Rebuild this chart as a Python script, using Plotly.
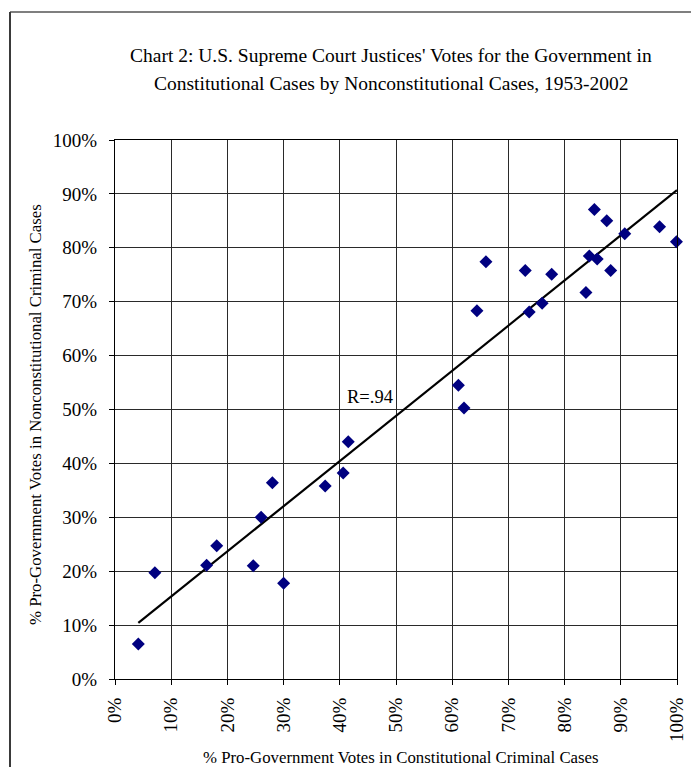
import plotly.graph_objects as go

# % pro-government votes in constitutional criminal cases (x) vs nonconstitutional criminal cases (y)
constitutional = [4.15, 7.1, 16.3, 18.1, 24.6, 26.0, 28.0, 30.0, 37.4, 40.6, 41.5,
                  61.1, 62.1, 64.4, 66.0, 73.0, 73.7, 76.0, 77.7, 83.8, 84.4,
                  85.3, 85.8, 87.5, 88.2, 90.7, 96.9, 99.9]
nonconstitutional = [6.5, 19.7, 21.1, 24.7, 21.0, 30.0, 36.4, 17.75, 35.8, 38.2, 44.0,
                     54.5, 50.3, 68.3, 77.4, 75.8, 68.1, 69.7, 75.1, 71.7, 78.5,
                     87.1, 77.9, 85.0, 75.8, 82.6, 83.9, 81.1]

# Trend line end points as drawn
trend_x = [4.15, 100.0]
trend_y = [10.4, 90.7]

title_lines = ["Chart 2: U.S. Supreme Court Justices' Votes for the Government in",
               "Constitutional Cases by Nonconstitutional Cases, 1953-2002"]
x_title = "% Pro-Government Votes in Constitutional Criminal Cases"
y_title = "% Pro-Government Votes in Nonconstitutional Criminal Cases"
r_label = "R=.94"

FONT = "Liberation Serif, Times New Roman, serif"
OFF = 8  # page offset of the figure inside the browser window
W, H = 699 - OFF, 767 - OFF
L, R, T, B = 115 - OFF, 677 - OFF, 140 - OFF, 679 - OFF
pw, ph = R - L, B - T


def px(x):
    return (x - OFF - L) / pw


def py(y):
    return (B - (y - OFF)) / ph


fig = go.Figure()
fig.add_trace(go.Scatter(x=trend_x, y=trend_y, mode="lines",
                         line=dict(color="black", width=2.2), hoverinfo="skip",
                         showlegend=False))
fig.add_trace(go.Scatter(x=constitutional, y=nonconstitutional, mode="markers",
                         marker=dict(symbol="diamond", size=10, color="#000080",
                                     line=dict(width=0)),
                         cliponaxis=False, showlegend=False))

axis_common = dict(range=[0, 100], dtick=10, ticksuffix="%", showgrid=True,
                   gridcolor="#2a2a2a", gridwidth=1, zeroline=False,
                   showline=True, linecolor="black", linewidth=1, mirror=True,
                   ticks="outside", ticklen=5, tickcolor="black",
                   tickfont=dict(family=FONT, size=19, color="black"))

fig.update_xaxes(**axis_common, tickangle=-90, ticklabelstandoff=5)
fig.update_yaxes(**axis_common, ticklabelstandoff=8)

annotations = [
    dict(text=title_lines[0], x=px(391), y=py(55), xref="paper", yref="paper",
         showarrow=False, xanchor="center", yanchor="middle",
         font=dict(family=FONT, size=19.5, color="black")),
    dict(text=title_lines[1], x=px(391), y=py(83), xref="paper", yref="paper",
         showarrow=False, xanchor="center", yanchor="middle",
         font=dict(family=FONT, size=19.5, color="black")),
    dict(text=x_title, x=px(401), y=py(757), xref="paper", yref="paper",
         showarrow=False, xanchor="center", yanchor="middle",
         font=dict(family=FONT, size=16.8, color="black")),
    dict(text=y_title, x=px(35), y=py(415), xref="paper", yref="paper",
         showarrow=False, xanchor="center", yanchor="middle", textangle=-90,
         font=dict(family=FONT, size=16.8, color="black")),
    dict(text=r_label, x=px(370), y=py(397), xref="paper", yref="paper",
         showarrow=False, xanchor="center", yanchor="middle",
         font=dict(family=FONT, size=18.5, color="black")),
]

shapes = [
    dict(type="line", xref="paper", yref="paper", x0=px(10), x1=px(720),
         y0=py(12), y1=py(12), line=dict(color="black", width=1.2)),
    dict(type="line", xref="paper", yref="paper", x0=px(10), x1=px(10),
         y0=py(12), y1=py(800), line=dict(color="#3a3a3a", width=2)),
]

fig.update_layout(width=W, height=H, autosize=False,
                  margin=dict(l=L, r=W - R, t=T, b=H - B),
                  paper_bgcolor="white", plot_bgcolor="white",
                  annotations=annotations, shapes=shapes,
                  font=dict(family=FONT, color="black"))

fig.write_html("out.html")
